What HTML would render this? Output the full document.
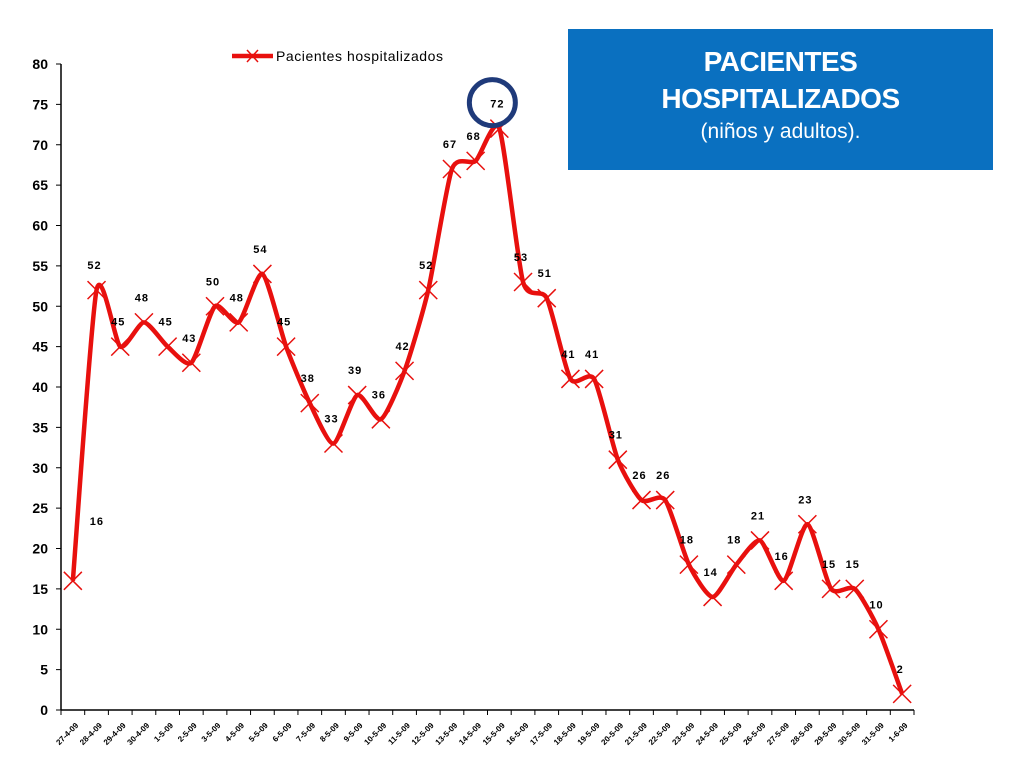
<!DOCTYPE html>
<html><head><meta charset="utf-8"><style>
body{margin:0;width:1024px;height:768px;background:#fff;overflow:hidden;font-family:"Liberation Sans",sans-serif}
#title{position:absolute;left:568px;top:29px;width:425px;height:141px;background:#0a70c0;color:#fff;text-align:center;box-sizing:border-box;padding-top:14px}
#title .t{font-size:28px;font-weight:bold;line-height:37px;letter-spacing:-0.5px}
#title .s{font-size:21px;line-height:30px}
</style></head><body>
<svg id="chart" width="1024" height="768" style="position:absolute;left:0;top:0"></svg>
<div id="title"><div class="t">PACIENTES<br>HOSPITALIZADOS</div><div class="s">(niños y adultos).</div></div>
<script>
const values=[16,52,45,48,45,43,50,48,54,45,38,33,39,36,42,52,67,68,72,53,51,41,41,31,26,26,18,14,18,21,16,23,15,15,10,2];
const categories=["27-4-09","28-4-09","29-4-09","30-4-09","1-5-09","2-5-09","3-5-09","4-5-09","5-5-09","6-5-09","7-5-09","8-5-09","9-5-09","10-5-09","11-5-09","12-5-09","13-5-09","14-5-09","15-5-09","16-5-09","17-5-09","18-5-09","19-5-09","20-5-09","21-5-09","22-5-09","23-5-09","24-5-09","25-5-09","26-5-09","27-5-09","28-5-09","29-5-09","30-5-09","31-5-09","1-6-09"];
const yTicks=[0,5,10,15,20,25,30,35,40,45,50,55,60,65,70,75,80];
const NS="http://www.w3.org/2000/svg";
const svg=document.getElementById('chart');
const X0=61,X1=914,Y0=710,Y1=64,YMAX=80;
const step=(X1-X0)/categories.length;
const xs=i=>X0+step*(i+0.5);
const ys=v=>Y0-(v/YMAX)*(Y0-Y1);
function mk(t,a,p){const e=document.createElementNS(NS,t);for(const k in a)e.setAttribute(k,a[k]);(p||svg).appendChild(e);return e;}
let ax=mk('line',{x1:X0,y1:Y1,x2:X0,y2:Y0,stroke:'#000','stroke-width':1.5});


let bx=mk('line',{x1:X0,y1:Y0,x2:X1,y2:Y0,stroke:'#000','stroke-width':1.5});


yTicks.forEach(v=>{
  mk('line',{x1:X0-5,y1:ys(v),x2:X0,y2:ys(v),stroke:'#000'});
  const t=mk('text',{x:X0-13,y:ys(v)+5,'text-anchor':'end','font-size':14,'font-weight':'bold',fill:'#000'});
  t.textContent=v;
  
  
});
categories.forEach((c,i)=>{
  const x=X0+step*i;
  mk('line',{x1:x,y1:Y0,x2:x,y2:Y0+5,stroke:'#000'});
  const cx=xs(i);
  const t=mk('text',{x:cx+6,y:Y0+16,'text-anchor':'end','font-size':8,'font-weight':'bold',fill:'#000',transform:`rotate(-45 ${cx+6} ${Y0+16})`});
  t.textContent=c;
  
  
});
mk('line',{x1:X1,y1:Y0,x2:X1,y2:Y0+5,stroke:'#000'});
const pts=values.map((v,i)=>[xs(i),ys(v)]);
let d=`M${pts[0][0]},${pts[0][1]}`;
for(let i=0;i<pts.length-1;i++){
  const p0=pts[Math.max(0,i-1)],p1=pts[i],p2=pts[i+1],p3=pts[Math.min(pts.length-1,i+2)];
  const k=9;
  const c1=[p1[0]+(p2[0]-p0[0])/k,p1[1]+(p2[1]-p0[1])/k];
  const c2=[p2[0]-(p3[0]-p1[0])/k,p2[1]-(p3[1]-p1[1])/k];
  d+=` C${c1[0]},${c1[1]} ${c2[0]},${c2[1]} ${p2[0]},${p2[1]}`;
}
const line=mk('path',{d:d,fill:'none',stroke:'#e8100e','stroke-width':4.5});


pts.forEach((p,i)=>{
  const g=mk('path',{d:`M${p[0]-9},${p[1]-9}L${p[0]+9},${p[1]+9}M${p[0]+9},${p[1]-9}L${p[0]-9},${p[1]+9}`,stroke:'#e8100e','stroke-width':1.5,fill:'none'});
  
  
  const lx=i===0?p[0]+24:p[0]-2, ly=i===0?p[1]-56:p[1]-21;
  const t=mk('text',{x:lx,y:ly,'text-anchor':'middle','font-size':11,'font-weight':'bold',fill:'#000','letter-spacing':'1px'});
  t.textContent=values[i];
  
  
});
const mi=values.indexOf(Math.max(...values));
const circ=mk('circle',{cx:xs(mi)-7,cy:ys(values[mi])-26,r:23,fill:'none',stroke:'#1f3a7a','stroke-width':5});


const lg=mk('g',{});


mk('line',{x1:232,y1:56,x2:273,y2:56,stroke:'#e8100e','stroke-width':4.5},lg);
mk('path',{d:'M247,50L258,62M258,50L247,62',stroke:'#e8100e','stroke-width':1.5,fill:'#fff'},lg);
const lt=mk('text',{x:276,y:61,'font-size':14,fill:'#000',textLength:167},lg);
lt.textContent='Pacientes hospitalizados';
</script>
</body></html>
